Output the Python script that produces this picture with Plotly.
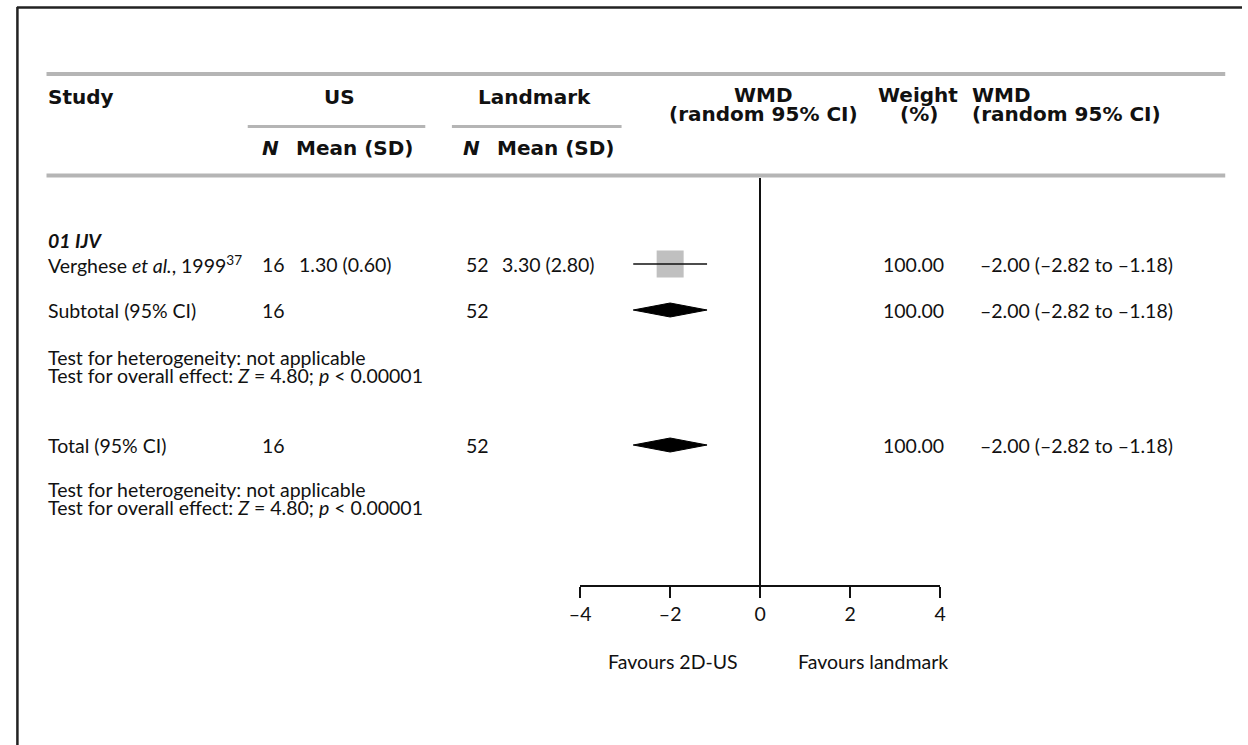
import plotly.graph_objects as go

# ---- data -------------------------------------------------------------
group_label = "01 IJV"
study_names = ["Verghese <i>et al.</i>, 1999<sup>37</sup>"]
us_n = [16]
us_mean = [1.30]
us_sd = [0.60]
lm_n = [52]
lm_mean = [3.30]
lm_sd = [2.80]
study_wmd = [-2.00]
study_lo = [-2.82]
study_hi = [-1.18]
study_weight = [100.00]

subtotal_us_n = 16
subtotal_lm_n = 52
subtotal_wmd = -2.00
subtotal_lo = -2.82
subtotal_hi = -1.18
subtotal_weight = 100.00

total_us_n = 16
total_lm_n = 52
total_wmd = -2.00
total_lo = -2.82
total_hi = -1.18
total_weight = 100.00

z_value = 4.80
p_text = "&lt; 0.00001"
heterogeneity_text = "not applicable"

tick_values = [-4, -2, 0, 2, 4]
tick_labels = ["–4", "–2", "0", "2", "4"]
x_range = [-4, 4]

# ---- layout helpers ---------------------------------------------------
W, H = 1248, 745
FONT = "Lato, 'Open Sans', sans-serif"
HFONT = "'DejaVu Sans', sans-serif"
INK = "#111111"
RULE = "#b5b5b5"
BODY = 19.5
HEAD = 20


def px(x):
    return x / W


def py(y):
    return 1 - y / H


def dash(v):
    return f"{v:.2f}".replace("-", "–")


def ci_text(m, lo, hi):
    return f"{dash(m)} ({dash(lo)} to {dash(hi)})"


# vertical row positions (pixels from top)
ROW = dict(group=241, study=264, subtotal=310, het1=357, eff1=375,
           total=445, het2=489, eff2=507)
PLOT_TOP, PLOT_BOTTOM = 178, 585
COL = dict(study=36, us_n=253, us_mean=291, lm_n=460, lm_mean=497,
           weight_r=947, wmd=981)

annotations = []


def add_text(x, y, text, anchor="left", size=BODY, family=FONT):
    annotations.append(dict(
        x=px(x), y=py(y), xref="paper", yref="paper", text=text,
        showarrow=False, xanchor=anchor, yanchor="middle",
        borderpad=0, font=dict(family=family, size=size, color=INK),
    ))


def add_head(x, y, text, anchor="left"):
    add_text(x, y, f"<b>{text}</b>", anchor=anchor, size=HEAD, family=HFONT)


# header
add_head(36, 97, "Study")
add_head(333, 97, "US", "center")
add_head(531, 97, "Landmark", "center")
add_head(763, 95, "WMD", "center")
add_head(763, 114, "(random 95% CI)", "center")
add_head(920, 95, "Weight", "center")
add_head(921, 114, "(%)", "center")
add_head(973, 95, "WMD")
add_head(973, 114, "(random 95% CI)")
add_head(253, 148, "<i>N</i>")
add_head(288, 148, "Mean (SD)")
add_head(457, 148, "<i>N</i>")
add_head(492, 148, "Mean (SD)")

# group and study rows
add_text(COL["study"], ROW["group"], f"<b><i>{group_label}</i></b>")
for i, name in enumerate(study_names):
    add_text(COL["study"], ROW["study"], name)
    add_text(COL["us_n"], ROW["study"], str(us_n[i]))
    add_text(COL["us_mean"], ROW["study"], f"{us_mean[i]:.2f} ({us_sd[i]:.2f})")
    add_text(COL["lm_n"], ROW["study"], str(lm_n[i]))
    add_text(COL["lm_mean"], ROW["study"], f"{lm_mean[i]:.2f} ({lm_sd[i]:.2f})")
    add_text(COL["weight_r"], ROW["study"], f"{study_weight[i]:.2f}", anchor="right")
    add_text(COL["wmd"], ROW["study"], ci_text(study_wmd[i], study_lo[i], study_hi[i]))

add_text(COL["study"], ROW["subtotal"], "Subtotal (95% CI)")
add_text(COL["us_n"], ROW["subtotal"], str(subtotal_us_n))
add_text(COL["lm_n"], ROW["subtotal"], str(subtotal_lm_n))
add_text(COL["weight_r"], ROW["subtotal"], f"{subtotal_weight:.2f}", anchor="right")
add_text(COL["wmd"], ROW["subtotal"], ci_text(subtotal_wmd, subtotal_lo, subtotal_hi))

effect_line = f"Test for overall effect: <i>Z</i> = {z_value:.2f}; <i>p</i> {p_text}"
add_text(COL["study"], ROW["het1"], f"Test for heterogeneity: {heterogeneity_text}")
add_text(COL["study"], ROW["eff1"], effect_line)

add_text(COL["study"], ROW["total"], "Total (95% CI)")
add_text(COL["us_n"], ROW["total"], str(total_us_n))
add_text(COL["lm_n"], ROW["total"], str(total_lm_n))
add_text(COL["weight_r"], ROW["total"], f"{total_weight:.2f}", anchor="right")
add_text(COL["wmd"], ROW["total"], ci_text(total_wmd, total_lo, total_hi))

add_text(COL["study"], ROW["het2"], f"Test for heterogeneity: {heterogeneity_text}")
add_text(COL["study"], ROW["eff2"], effect_line)

add_text(671, 661, "Favours 2D-US", anchor="center")
add_text(874, 661, "Favours landmark", anchor="center")

# ---- marks ------------------------------------------------------------
fig = go.Figure()

# study squares (weight-sized) with CI whiskers on top
fig.add_trace(go.Scatter(
    x=study_wmd, y=[ROW["study"]] * len(study_wmd), mode="markers",
    marker=dict(symbol="square", size=27, color="#c0c0c0", line=dict(width=0)),
    hoverinfo="skip", showlegend=False,
))
for m, lo, hi in zip(study_wmd, study_lo, study_hi):
    fig.add_trace(go.Scatter(
        x=[lo, hi], y=[ROW["study"], ROW["study"]], mode="lines",
        line=dict(color=INK, width=1.5), hoverinfo="skip", showlegend=False,
    ))

# pooled diamonds
HALF = 7
for row, m, lo, hi in [(ROW["subtotal"], subtotal_wmd, subtotal_lo, subtotal_hi),
                       (ROW["total"], total_wmd, total_lo, total_hi)]:
    fig.add_trace(go.Scatter(
        x=[lo, m, hi, m, lo], y=[row, row - HALF, row, row + HALF, row],
        mode="lines", fill="toself", fillcolor="#000000",
        line=dict(color="#000000", width=1), hoverinfo="skip", showlegend=False,
    ))

# ---- rules and frame --------------------------------------------------
shapes = []


def hline(x0, x1, y, width, color):
    shapes.append(dict(type="line", xref="paper", yref="paper",
                       x0=px(x0), x1=px(x1), y0=py(y), y1=py(y),
                       line=dict(color=color, width=width)))


hline(36, 1231, 74, 4, RULE)
hline(240, 420, 126.5, 3, RULE)
hline(447, 619, 126.5, 3, RULE)
hline(36, 1231, 175.5, 4, RULE)
# frame edges
hline(6, W, 7.5, 2.5, "#222222")
shapes.append(dict(type="line", xref="paper", yref="paper",
                   x0=px(6.5), x1=px(6.5), y0=py(7), y1=py(H),
                   line=dict(color="#222222", width=2.5)))

fig.update_layout(
    width=W, height=H, autosize=False,
    margin=dict(l=0, r=0, t=0, b=0),
    paper_bgcolor="white", plot_bgcolor="white",
    showlegend=False,
    annotations=annotations, shapes=shapes,
    xaxis=dict(
        domain=[px(577), px(942)], range=x_range,
        showgrid=False, zeroline=True, zerolinecolor=INK, zerolinewidth=1.5,
        showline=True, linecolor=INK, linewidth=1.5,
        ticks="outside", ticklen=11, tickwidth=1.5, tickcolor=INK,
        tickvals=tick_values, ticktext=tick_labels,
        tickfont=dict(family=FONT, size=BODY, color=INK),
        ticklabelstandoff=0, fixedrange=True,
    ),
    yaxis=dict(
        domain=[py(PLOT_BOTTOM), py(PLOT_TOP)], range=[PLOT_BOTTOM, PLOT_TOP],
        visible=False, showgrid=False, zeroline=False, fixedrange=True,
    ),
)

fig.write_html("out.html")
